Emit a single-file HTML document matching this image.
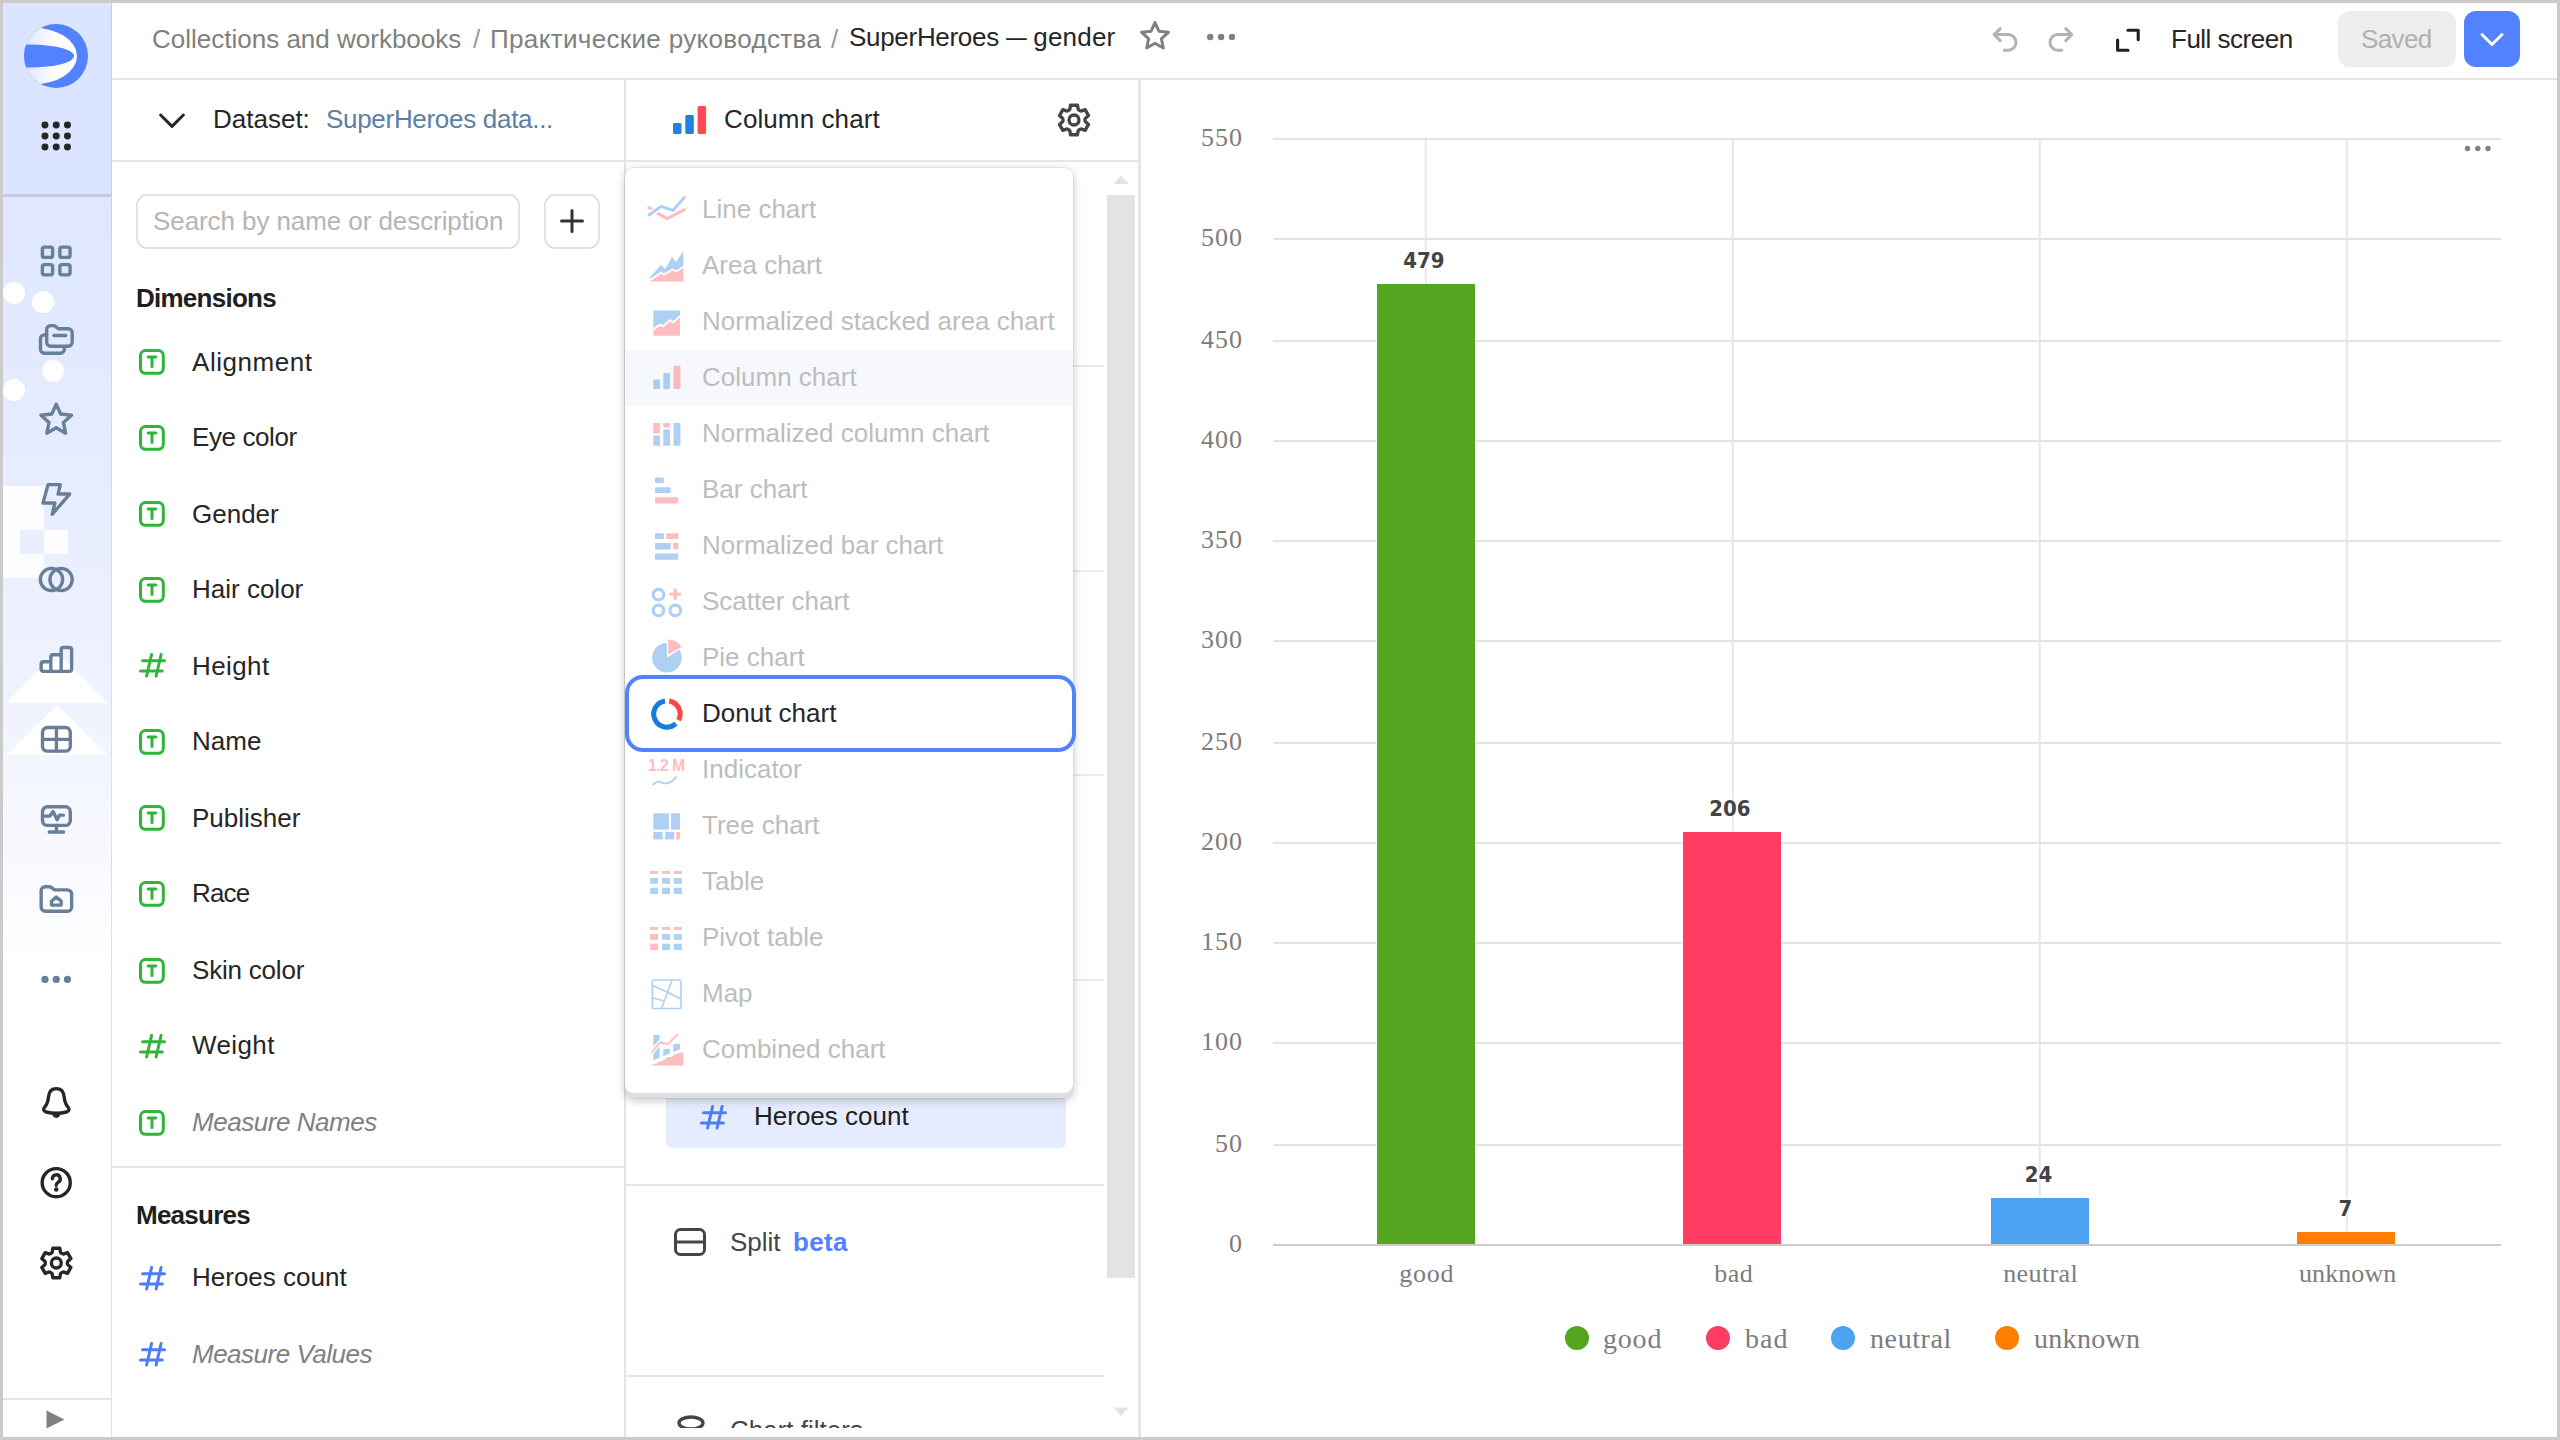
<!DOCTYPE html>
<html lang="en">
<head>
<meta charset="utf-8">
<title>SuperHeroes — gender</title>
<style>
*{box-sizing:border-box;margin:0;padding:0}
html,body{width:2560px;height:1440px;overflow:hidden;background:#fff}
body{font-family:"Liberation Sans",sans-serif;font-size:26px;color:#262626;position:relative}
.abs{position:absolute}
#frame{position:absolute;left:0;top:0;width:2560px;height:1440px;border:3px solid #cbcbcb;z-index:100;pointer-events:none}
.t{position:absolute;white-space:nowrap;line-height:30px;height:30px}
.ln{position:absolute;background:#e5e5e5}
svg{position:absolute;overflow:visible}
.ic{fill:none;stroke:#687f99;stroke-width:1.5;stroke-linecap:round;stroke-linejoin:round}
.icd{fill:none;stroke:#262626;stroke-width:1.5;stroke-linecap:round;stroke-linejoin:round}
/* aside */
#aside{position:absolute;left:3px;top:3px;width:108px;height:1434px;background:linear-gradient(180deg,#dde6ff 0px,#e0e8ff 250px,#e8edff 500px,#f0f3ff 700px,#f8f9ff 850px,#ffffff 960px);overflow:hidden}
#asidetop{position:absolute;left:0;top:0;width:108px;height:191px;background:#dce5ff}
/* rows */
.row{position:absolute;left:136px;height:76px;width:480px}
.row .t{left:56px;top:23px}
.it{font-style:italic;color:#808080}
/* dropdown */
#ddw{position:absolute;left:625px;top:168px;width:448px;height:929.5px;background:#dfdfe2;border-radius:9px;box-shadow:0 0 0 1px rgba(0,0,0,.03),0 2px 10px rgba(0,0,0,.24)}
#dd{position:absolute;left:625px;top:168px;width:448px;height:925px;background:#fff;border-radius:9px}
.mi{position:absolute;left:0;width:448px;height:56px}
.mi .t{left:77px;top:13px;color:#bdbdbd}
</style>
</head>
<body>
<div id="aside">
  <div id="asidetop"></div>
  <div class="abs" style="left:0;top:191px;width:108px;height:3px;background:#c4cbe2"></div>
  <!-- decor circles -->
  <div class="abs" style="left:0px;top:279px;width:22px;height:22px;border-radius:50%;background:#fff;margin-left:0"></div>
  <div class="abs" style="left:29px;top:288px;width:22px;height:22px;border-radius:50%;background:#fff"></div>
  <div class="abs" style="left:39px;top:357px;width:22px;height:22px;border-radius:50%;background:#fff"></div>
  <div class="abs" style="left:0px;top:376px;width:22px;height:22px;border-radius:50%;background:#fff"></div>
  <!-- decor squares -->
  <div class="abs" style="left:0;top:483px;width:41px;height:92px;background:#fdfdff"></div>
  <div class="abs" style="left:17px;top:527px;width:24px;height:24px;background:#eaeffe"></div>
  <div class="abs" style="left:41px;top:527px;width:24px;height:24px;background:#fdfdff"></div>
  <!-- decor triangles -->
  <svg style="left:0;top:640px" width="108" height="120" viewBox="0 0 108 120"><path d="M54 9 L105 60 L3 60Z M54 62 L105 112 L3 112Z" fill="#fff"/></svg>
  <div class="abs" style="left:0;top:1395px;width:108px;height:2px;background:#e5e5e5"></div>
</div>
<div class="ln" style="left:110.5px;top:3px;width:1.5px;height:1434px;background:linear-gradient(180deg,#c3cbe6 0,#ccd3ea 400px,#dcdfea 800px,#e2e3e8 1000px)"></div>
<!-- logo -->
<svg style="left:24px;top:24px" width="64" height="64" viewBox="0 0 64 64">
  <defs>
    <linearGradient id="lg" gradientUnits="userSpaceOnUse" x1="0" x2="64" y1="0" y2="0"><stop offset="0" stop-color="#dde5ff"/><stop offset=".5" stop-color="#ffffff"/><stop offset="1" stop-color="#ffffff"/></linearGradient>
    <clipPath id="lc"><circle cx="32" cy="32" r="32"/></clipPath>
  </defs>
  <circle cx="32" cy="32" r="32" fill="#5282ff"/>
  <g clip-path="url(#lc)">
    <ellipse cx="8" cy="32" rx="45" ry="28.5" fill="url(#lg)"/>
    <ellipse cx="6" cy="32" rx="44" ry="11.5" fill="#5282ff"/>
  </g>
</svg>
<!-- apps dots -->
<svg style="left:38px;top:118px" width="36" height="36" viewBox="0 0 16 16" fill="#262626">
  <circle cx="3.1" cy="3.1" r="1.55"/><circle cx="8.1" cy="3.1" r="1.55"/><circle cx="13.1" cy="3.1" r="1.55"/>
  <circle cx="3.1" cy="8" r="1.55"/><circle cx="8.1" cy="8" r="1.55"/><circle cx="13.1" cy="8" r="1.55"/>
  <circle cx="3.1" cy="12.9" r="1.55"/><circle cx="8.1" cy="12.9" r="1.55"/><circle cx="13.1" cy="12.9" r="1.55"/>
</svg>
<!-- dashboards -->
<svg class="ic" style="left:38px;top:243px" width="36" height="36" viewBox="0 0 16 16">
  <rect x="1.95" y="1.85" width="4.55" height="4.55" rx=".9"/><rect x="9.7" y="1.85" width="4.55" height="4.55" rx=".9"/>
  <rect x="1.95" y="9.6" width="4.55" height="4.55" rx=".9"/><rect x="9.7" y="9.6" width="4.55" height="4.55" rx=".9"/>
</svg>
<!-- folders -->
<svg class="ic" style="left:38px;top:322px" width="36" height="36" viewBox="0 0 16 16">
  <path d="M3.85 5.7 H2.9 A1.8 1.8 0 0 0 1.1 7.5 V12.1 A1.8 1.8 0 0 0 2.9 13.9 H9.9 A1.8 1.8 0 0 0 11.7 12.1 V11"/>
  <path d="M3.85 3.3 A1.7 1.7 0 0 1 5.55 1.6 H6.8 A1.7 1.7 0 0 1 8 2.1 L8.6 2.7 A1 1 0 0 0 9.3 3 H13.4 A1.8 1.8 0 0 1 15.2 4.8 V9 A1.8 1.8 0 0 1 13.4 10.8 H5.65 A1.8 1.8 0 0 1 3.85 9Z"/>
  <path d="M7.1 6 H12.3"/>
</svg>
<!-- star -->
<svg class="ic" style="left:38px;top:401px" width="36" height="36" viewBox="0 0 16 16">
  <path d="M8.1 1.45 L10.08 5.8 L14.9 6.33 L11.3 9.58 L12.28 14.3 L8.1 11.92 L3.92 14.3 L4.9 9.58 L1.3 6.33 L6.12 5.8Z"/>
</svg>
<!-- bolt -->
<svg class="ic" style="left:38px;top:481px" width="36" height="36" viewBox="0 0 16 16">
  <path d="M4.5 1.6 H9.9 L8.9 5.8 H14.1 L6.3 14.8 L7.5 9.8 H2.2Z"/>
</svg>
<!-- circles -->
<svg class="ic" style="left:38px;top:561px" width="36" height="36" viewBox="0 0 16 16">
  <circle cx="6.0" cy="8.2" r="4.95"/><circle cx="10.25" cy="8.2" r="4.95"/>
</svg>
<!-- bars -->
<svg class="ic" style="left:38px;top:642px" width="36" height="36" viewBox="0 0 16 16">
  <path d="M5.7 13.05 H2.4 A1 1 0 0 1 1.4 12.05 V9.75 A1 1 0 0 1 2.4 8.75 H5.7 M5.7 13.05 V6.65 A1 1 0 0 1 6.7 5.65 H10.3 M5.7 13.05 H10.3 M10.3 13.05 V3.45 A1 1 0 0 1 11.3 2.45 H13.95 A1 1 0 0 1 14.95 3.45 V12.05 A1 1 0 0 1 13.95 13.05 H10.3"/>
</svg>
<!-- table -->
<svg class="ic" style="left:38px;top:722px" width="36" height="36" viewBox="0 0 16 16">
  <rect x="2" y="2.45" width="12.35" height="10.5" rx="2.2"/><path d="M8.2 2.45 V12.95 M2 7.7 H14.35"/>
</svg>
<!-- monitor -->
<svg class="ic" style="left:38px;top:801px" width="36" height="36" viewBox="0 0 16 16">
  <rect x="2" y="2.55" width="12.35" height="8.3" rx="2.2"/><path d="M8.2 10.85 V13.7 M5 13.75 H11.4 M2.2 6.7 H5.3 L6.7 4.7 L8.5 8.3 L9.6 6.3 H11.3"/>
</svg>
<!-- folder home -->
<svg class="ic" style="left:38px;top:881px" width="36" height="36" viewBox="0 0 16 16">
  <path d="M1.4 4.35 A1.8 1.8 0 0 1 3.2 2.55 H4.9 A1.8 1.8 0 0 1 6.1 3 L6.9 3.7 A1 1 0 0 0 7.6 3.95 H13.15 A1.8 1.8 0 0 1 14.95 5.75 V11.65 A1.8 1.8 0 0 1 13.15 13.45 H3.2 A1.8 1.8 0 0 1 1.4 11.65Z"/>
  <path d="M8.15 7.1 L10.3 9 V10.7 H6 V9Z"/>
</svg>
<!-- more dots -->
<svg style="left:38px;top:961px" width="36" height="36" viewBox="0 0 16 16" fill="#687f99">
  <circle cx="3.1" cy="8.2" r="1.6"/><circle cx="8.1" cy="8.2" r="1.6"/><circle cx="13.1" cy="8.2" r="1.6"/>
</svg>
<!-- bell -->
<svg class="icd" style="left:38px;top:1085px" width="36" height="36" viewBox="0 0 16 16">
  <path d="M8.15 1.6 C5.9 1.6 4.9 3.2 4.7 5.1 C4.5 7 4.3 8.2 3.2 9.5 C2.1 10.8 2.4 11.7 3.6 12 C6.5 12.7 9.8 12.7 12.7 12 C13.9 11.7 14.2 10.8 13.1 9.5 C12 8.2 11.8 7 11.6 5.1 C11.4 3.2 10.4 1.6 8.15 1.6Z"/>
  <path d="M6.2 12.6 A2 2.6 0 0 0 10.1 12.6Z" fill="#262626" stroke="none"/>
</svg>
<!-- help -->
<svg class="icd" style="left:38px;top:1165px" width="36" height="36" viewBox="0 0 16 16">
  <circle cx="8.1" cy="7.85" r="6.25"/>
  <path d="M6.4 6.1 A1.75 1.75 0 1 1 8.9 7.7 C8.3 8.1 8.1 8.4 8.1 9"/>
  <circle cx="8.1" cy="10.9" r="1" fill="#262626" stroke="none"/>
</svg>
<!-- gear -->
<svg class="icd" style="left:38px;top:1245px" width="36" height="36" viewBox="0 0 16 16">
  <path d="M6.11 3.32L6.48 1.42L9.52 1.42L9.89 3.32L10.45 3.76L11.11 4.02L12.94 3.40L14.46 6.03L13.00 7.30L12.90 8.00L13.00 8.70L14.46 9.97L12.94 12.60L11.11 11.98L10.45 12.24L9.89 12.68L9.52 14.58L6.48 14.58L6.11 12.68L5.55 12.24L4.89 11.98L3.06 12.60L1.54 9.97L3.00 8.70L3.10 8.00L3.00 7.30L1.54 6.03L3.06 3.40L4.89 4.02L5.55 3.76Z" transform="translate(.15 0)"/>
  <circle cx="8.15" cy="8" r="2.2"/>
</svg>
<!-- play -->
<svg style="left:46px;top:1410px" width="19" height="19" viewBox="0 0 19 19"><path d="M0.5 0.5 L18.5 9.5 L0.5 18.5Z" fill="#808080"/></svg>

<!-- topbar -->
<div class="ln" style="left:112px;top:78px;width:2445px;height:2px"></div>
<div class="t" style="left:152px;top:24px;color:#808080">Collections and workbooks</div>
<div class="t" style="left:473px;top:24px;color:#9a9a9a">/</div>
<div class="t" style="left:490px;top:24px;color:#808080;letter-spacing:.34px">Практические руководства</div>
<div class="t" style="left:831px;top:24px;color:#9a9a9a">/</div>
<div class="t" style="left:849px;top:22px;color:#262626;letter-spacing:-.3px">SuperHeroes <span style="display:inline-block;transform:scaleX(.8);transform-origin:0 50%;margin-right:-5.5px;letter-spacing:0">—</span> <span style="letter-spacing:.2px">gender</span></div>
<svg style="left:1139px;top:20px;fill:none;stroke:#808080;stroke-width:1.5;stroke-linejoin:round" width="32" height="32" viewBox="0 0 16 16">
  <path d="M8 1.3 L9.95 5.6 L14.7 6.15 L11.2 9.35 L12.15 14 L8 11.65 L3.85 14 L4.8 9.35 L1.3 6.15 L6.05 5.6Z"/>
</svg>
<svg style="left:1205px;top:21px" width="32" height="32" viewBox="0 0 16 16" fill="#808080"><circle cx="2.6" cy="8" r="1.6"/><circle cx="8.05" cy="8" r="1.6"/><circle cx="13.5" cy="8" r="1.6"/></svg>
<!-- undo / redo -->
<svg style="left:1989px;top:24px;fill:none;stroke:#b3b3b3;stroke-width:1.5;stroke-linecap:round;stroke-linejoin:round" width="32" height="32" viewBox="0 0 16 16">
  <path d="M5.6 2.3 L2.6 5.3 L5.6 8.3 M2.8 5.3 H9.6 A3.9 3.9 0 0 1 9.6 13.1 H7.6"/>
</svg>
<svg style="left:2045px;top:24px;fill:none;stroke:#b3b3b3;stroke-width:1.5;stroke-linecap:round;stroke-linejoin:round" width="32" height="32" viewBox="0 0 16 16">
  <path d="M10.4 2.3 L13.4 5.3 L10.4 8.3 M13.2 5.3 H6.4 A3.9 3.9 0 0 0 6.4 13.1 H8.4"/>
</svg>
<!-- fullscreen -->
<svg style="left:2112px;top:24px;fill:none;stroke:#212121;stroke-width:1.55;stroke-linecap:round;stroke-linejoin:round" width="32" height="32" viewBox="0 0 16 16">
  <path d="M7.95 3.15 H13.1 V7.9 M2.8 8 V13.1 H8"/>
</svg>
<div class="t" style="left:2171px;top:24px;color:#262626;letter-spacing:-.5px">Full screen</div>
<div class="abs" style="left:2338px;top:11px;width:118px;height:56px;border-radius:12px;background:#ededed"></div>
<div class="t" style="left:2361px;top:24px;color:#b0b0b0;letter-spacing:-.6px">Saved</div>
<div class="abs" style="left:2464px;top:11px;width:56px;height:56px;border-radius:12px;background:#5282ff"></div>
<svg style="left:2476px;top:23px;fill:none;stroke:#fff;stroke-width:1.5;stroke-linecap:round;stroke-linejoin:round" width="32" height="32" viewBox="0 0 16 16"><path d="M3 5.75 L8 10.75 L13 5.75"/></svg>

<!-- left panel -->
<div class="ln" style="left:112px;top:160px;width:1026px;height:2px"></div>
<div class="ln" style="left:624px;top:80px;width:2px;height:1357px"></div>
<svg style="left:156px;top:105px;fill:none;stroke:#262626;stroke-width:1.5;stroke-linecap:round;stroke-linejoin:round" width="32" height="32" viewBox="0 0 16 16"><path d="M2.3 5 L8 10.7 L13.7 5"/></svg>
<div class="t" style="left:213px;top:104px;color:#262626">Dataset:</div>
<div class="t" style="left:326px;top:104px;color:#5b7fa5;letter-spacing:-.3px">SuperHeroes data...</div>
<div class="abs" style="left:136px;top:194px;width:384px;height:55px;border:2px solid #e2e2e2;border-radius:11px"></div>
<div class="t" style="left:153px;top:206px;color:#b5b5b5;letter-spacing:-.08px">Search by name or description</div>
<div class="abs" style="left:544px;top:194px;width:56px;height:55px;border:2px solid #e2e2e2;border-radius:11px"></div>
<svg style="left:560px;top:209px;fill:none;stroke:#333;stroke-width:3;stroke-linecap:round" width="24" height="24" viewBox="0 0 24 24"><path d="M12 1.5 V22.5 M1.5 12 H22.5"/></svg>
<div class="t" style="left:136px;top:283px;font-weight:700;color:#1f1f1f;letter-spacing:-.75px">Dimensions</div>
<div class="ln" style="left:112px;top:1166px;width:512px;height:2px"></div>
<div class="t" style="left:136px;top:1200px;font-weight:700;color:#1f1f1f;letter-spacing:-.75px">Measures</div>
<div class="row" style="top:324px"><svg style="left:3px;top:24.7px;fill:none;stroke:#30b53a;stroke-width:3;stroke-linecap:round" width="26" height="26" viewBox="0 0 26 26"><rect x="1.5" y="1.5" width="22.8" height="22.8" rx="5"/><path d="M9.2 7.9 H16.8 M13 7.9 V17.4"/></svg><div class="t" style="letter-spacing:0.55px">Alignment</div></div>
<div class="row" style="top:399px"><svg style="left:3px;top:25.8px;fill:none;stroke:#30b53a;stroke-width:3;stroke-linecap:round" width="26" height="26" viewBox="0 0 26 26"><rect x="1.5" y="1.5" width="22.8" height="22.8" rx="5"/><path d="M9.2 7.9 H16.8 M13 7.9 V17.4"/></svg><div class="t" style="letter-spacing:-0.4px">Eye color</div></div>
<div class="row" style="top:476px"><svg style="left:3px;top:24.9px;fill:none;stroke:#30b53a;stroke-width:3;stroke-linecap:round" width="26" height="26" viewBox="0 0 26 26"><rect x="1.5" y="1.5" width="22.8" height="22.8" rx="5"/><path d="M9.2 7.9 H16.8 M13 7.9 V17.4"/></svg><div class="t">Gender</div></div>
<div class="row" style="top:551px"><svg style="left:3px;top:26.0px;fill:none;stroke:#30b53a;stroke-width:3;stroke-linecap:round" width="26" height="26" viewBox="0 0 26 26"><rect x="1.5" y="1.5" width="22.8" height="22.8" rx="5"/><path d="M9.2 7.9 H16.8 M13 7.9 V17.4"/></svg><div class="t">Hair color</div></div>
<div class="row" style="top:628px"><svg style="left:2.7px;top:25.3px;fill:none;stroke:#30b53a;stroke-width:3;stroke-linecap:round" width="28" height="28" viewBox="0 0 28 28"><path d="M12.6 1.5 L7.6 23 M22.1 1.5 L17.1 23 M3.6 7.7 H25.5 M1.5 18 H23.3"/></svg><div class="t" style="letter-spacing:0.4px">Height</div></div>
<div class="row" style="top:703px"><svg style="left:3px;top:26.2px;fill:none;stroke:#30b53a;stroke-width:3;stroke-linecap:round" width="26" height="26" viewBox="0 0 26 26"><rect x="1.5" y="1.5" width="22.8" height="22.8" rx="5"/><path d="M9.2 7.9 H16.8 M13 7.9 V17.4"/></svg><div class="t">Name</div></div>
<div class="row" style="top:780px"><svg style="left:3px;top:25.3px;fill:none;stroke:#30b53a;stroke-width:3;stroke-linecap:round" width="26" height="26" viewBox="0 0 26 26"><rect x="1.5" y="1.5" width="22.8" height="22.8" rx="5"/><path d="M9.2 7.9 H16.8 M13 7.9 V17.4"/></svg><div class="t">Publisher</div></div>
<div class="row" style="top:855px"><svg style="left:3px;top:26.4px;fill:none;stroke:#30b53a;stroke-width:3;stroke-linecap:round" width="26" height="26" viewBox="0 0 26 26"><rect x="1.5" y="1.5" width="22.8" height="22.8" rx="5"/><path d="M9.2 7.9 H16.8 M13 7.9 V17.4"/></svg><div class="t" style="letter-spacing:-0.85px">Race</div></div>
<div class="row" style="top:932px"><svg style="left:3px;top:25.5px;fill:none;stroke:#30b53a;stroke-width:3;stroke-linecap:round" width="26" height="26" viewBox="0 0 26 26"><rect x="1.5" y="1.5" width="22.8" height="22.8" rx="5"/><path d="M9.2 7.9 H16.8 M13 7.9 V17.4"/></svg><div class="t" style="letter-spacing:-0.2px">Skin color</div></div>
<div class="row" style="top:1007px"><svg style="left:2.7px;top:26.8px;fill:none;stroke:#30b53a;stroke-width:3;stroke-linecap:round" width="28" height="28" viewBox="0 0 28 28"><path d="M12.6 1.5 L7.6 23 M22.1 1.5 L17.1 23 M3.6 7.7 H25.5 M1.5 18 H23.3"/></svg><div class="t" style="letter-spacing:0.4px">Weight</div></div>
<div class="row" style="top:1084px"><svg style="left:3px;top:25.7px;fill:none;stroke:#30b53a;stroke-width:3;stroke-linecap:round" width="26" height="26" viewBox="0 0 26 26"><rect x="1.5" y="1.5" width="22.8" height="22.8" rx="5"/><path d="M9.2 7.9 H16.8 M13 7.9 V17.4"/></svg><div class="t it" style="letter-spacing:-0.45px">Measure Names</div></div>
<div class="row" style="top:1239px"><svg style="left:2.7px;top:27.3px;fill:none;stroke:#4c7cf6;stroke-width:3;stroke-linecap:round" width="28" height="28" viewBox="0 0 28 28"><path d="M12.6 1.5 L7.6 23 M22.1 1.5 L17.1 23 M3.6 7.7 H25.5 M1.5 18 H23.3"/></svg><div class="t">Heroes count</div></div>
<div class="row" style="top:1316px"><svg style="left:2.7px;top:26.4px;fill:none;stroke:#4c7cf6;stroke-width:3;stroke-linecap:round" width="28" height="28" viewBox="0 0 28 28"><path d="M12.6 1.5 L7.6 23 M22.1 1.5 L17.1 23 M3.6 7.7 H25.5 M1.5 18 H23.3"/></svg><div class="t it" style="letter-spacing:-0.5px">Measure Values</div></div>
<!-- mid panel -->
<div class="ln" style="left:1138px;top:80px;width:3px;height:1357px;background:#e6e6e6"></div>
<svg style="left:673px;top:106px" width="34" height="28" viewBox="0 0 34 28">
  <rect x="0" y="17" width="8.5" height="11" rx="1.6" fill="#2280e0"/><rect x="12.3" y="9" width="8.5" height="19" rx="1.6" fill="#2280e0"/><rect x="24.6" y="0" width="8.5" height="28" rx="1.6" fill="#ff4a4f"/>
</svg>
<div class="t" style="left:724px;top:104px;color:#262626;letter-spacing:.1px">Column chart</div>
<svg style="left:1056px;top:102px;fill:none;stroke:#454545;stroke-width:1.5;stroke-linecap:round;stroke-linejoin:round" width="36" height="36" viewBox="0 0 16 16">
  <path d="M6.11 3.32L6.48 1.42L9.52 1.42L9.89 3.32L10.45 3.76L11.11 4.02L12.94 3.40L14.46 6.03L13.00 7.30L12.90 8.00L13.00 8.70L14.46 9.97L12.94 12.60L11.11 11.98L10.45 12.24L9.89 12.68L9.52 14.58L6.48 14.58L6.11 12.68L5.55 12.24L4.89 11.98L3.06 12.60L1.54 9.97L3.00 8.70L3.10 8.00L3.00 7.30L1.54 6.03L3.06 3.40L4.89 4.02L5.55 3.76Z"/>
  <circle cx="8" cy="8" r="2.2"/>
</svg>
<!-- section lines behind dropdown -->
<div class="ln" style="left:626px;top:365px;width:478px;height:2px;background:#ebebeb"></div>
<div class="ln" style="left:626px;top:570px;width:478px;height:2px;background:#ebebeb"></div>
<div class="ln" style="left:626px;top:774px;width:478px;height:2px;background:#ebebeb"></div>
<div class="ln" style="left:626px;top:979px;width:478px;height:2px;background:#ebebeb"></div>
<div class="ln" style="left:626px;top:1184px;width:478px;height:2px"></div>
<div class="ln" style="left:626px;top:1375px;width:478px;height:2px"></div>
<!-- heroes count chip -->
<div class="abs" style="left:666px;top:1087px;width:400px;height:60.5px;border-radius:6px;background:#e6ecff"></div>
<svg style="left:700px;top:1105px;fill:none;stroke:#4c7cf6;stroke-width:3;stroke-linecap:round" width="28" height="28" viewBox="0 0 28 28"><path d="M12.6 1.5 L7.6 23 M22.1 1.5 L17.1 23 M3.6 7.7 H25.5 M1.5 18 H23.3"/></svg>
<div class="t" style="left:754px;top:1101px;color:#1f1f1f">Heroes count</div>
<!-- split -->
<svg style="left:674px;top:1228px;fill:none;stroke:#454545;stroke-width:3;stroke-linejoin:round" width="32" height="28" viewBox="0 0 32 28"><rect x="1.5" y="1.5" width="29" height="25" rx="5"/><path d="M1.5 14 H30.5"/></svg>
<div class="t" style="left:730px;top:1227px;color:#454545">Split</div>
<div class="t" style="left:793px;top:1227px;color:#5282ff;font-weight:700;letter-spacing:.3px">beta</div>
<!-- chart filters (clipped) -->
<div class="abs" style="left:626px;top:1400px;width:478px;height:28px;overflow:hidden">
  <svg style="left:50px;top:15px;fill:none;stroke:#454545;stroke-width:3.4" width="30" height="30" viewBox="0 0 30 30"><ellipse cx="15" cy="8" rx="12" ry="6"/></svg>
  <div class="t" style="left:104px;top:15px;color:#454545">Chart filters</div>
</div>
<!-- scrollbar -->
<svg style="left:1106px;top:170px" width="30" height="1260" viewBox="0 0 30 1260">
  <path d="M15 5.5 L22.5 14 H7.5Z" fill="#e3e3e3"/>
  <rect x="1" y="25" width="28" height="1083" fill="#e3e3e3"/>
  <path d="M15 1246 L22.5 1237.5 H7.5Z" fill="#e3e3e3"/>
</svg>

<svg style="left:1141px;top:82px" width="1416" height="1355" viewBox="1141 82 1416 1355">
<g fill="none"><path d="M1273 139 H2501" stroke="#e3e3e3" stroke-width="2"/><path d="M1273 239 H2501" stroke="#e3e3e3" stroke-width="2"/><path d="M1273 341 H2501" stroke="#e3e3e3" stroke-width="2"/><path d="M1273 441 H2501" stroke="#e3e3e3" stroke-width="2"/><path d="M1273 541 H2501" stroke="#e3e3e3" stroke-width="2"/><path d="M1273 641 H2501" stroke="#e3e3e3" stroke-width="2"/><path d="M1273 743 H2501" stroke="#e3e3e3" stroke-width="2"/><path d="M1273 843 H2501" stroke="#e3e3e3" stroke-width="2"/><path d="M1273 943 H2501" stroke="#e3e3e3" stroke-width="2"/><path d="M1273 1043 H2501" stroke="#e3e3e3" stroke-width="2"/><path d="M1273 1145 H2501" stroke="#e3e3e3" stroke-width="2"/><path d="M1425.8 140 V1244" stroke="#e7e7e7" stroke-width="2"/><path d="M1732.8 140 V1244" stroke="#e7e7e7" stroke-width="2"/><path d="M2039.8 140 V1244" stroke="#e7e7e7" stroke-width="2"/><path d="M2346.8 140 V1244" stroke="#e7e7e7" stroke-width="2"/></g>
<rect x="1377" y="284" width="98" height="960" fill="#54a520" stroke="#fff" stroke-width="2" paint-order="stroke"/>
<rect x="1683" y="832" width="98" height="412" fill="#ff3d64" stroke="#fff" stroke-width="2" paint-order="stroke"/>
<rect x="1991" y="1198" width="98" height="46" fill="#4da2f1" stroke="#fff" stroke-width="2" paint-order="stroke"/>
<rect x="2297" y="1232" width="98" height="12" fill="#ff7e00" stroke="#fff" stroke-width="2" paint-order="stroke"/>
<path d="M1273 1245 H2501" stroke="#cccccc" stroke-width="2" fill="none"/>
<g font-family="Liberation Serif,serif" font-size="26" fill="#7c7c7c" text-anchor="end" letter-spacing="1"><text x="1243" y="146">550</text><text x="1243" y="246">500</text><text x="1243" y="348">450</text><text x="1243" y="448">400</text><text x="1243" y="548">350</text><text x="1243" y="648">300</text><text x="1243" y="750">250</text><text x="1243" y="850">200</text><text x="1243" y="950">150</text><text x="1243" y="1050">100</text><text x="1243" y="1152">50</text><text x="1243" y="1252">0</text></g>
<g font-family="Liberation Serif,serif" font-size="26" fill="#7c7c7c" text-anchor="middle" letter-spacing="1"><text x="1426.7" y="1282" letter-spacing="0.7">good</text><text x="1733.7" y="1282" letter-spacing="0.4">bad</text><text x="2040.7" y="1282" letter-spacing="0.4">neutral</text><text x="2347.7" y="1282" letter-spacing="0.1">unknown</text></g>
<g font-family="DejaVu Sans Condensed,DejaVu Sans,sans-serif" font-weight="700" font-size="22" fill="#444" text-anchor="middle" stroke="#fff" stroke-width="3" stroke-linejoin="round" paint-order="stroke"><text x="1424" y="268">479</text><text x="1730" y="816">206</text><text x="2038.5" y="1182">24</text><text x="2345.5" y="1216">7</text></g>
<circle cx="1577" cy="1338" r="12" fill="#54a520"/>
<circle cx="1718" cy="1338" r="12" fill="#ff3d64"/>
<circle cx="1843" cy="1338" r="12" fill="#4da2f1"/>
<circle cx="2007" cy="1338" r="12" fill="#ff7e00"/>
<g font-family="Liberation Serif,serif" font-size="28" fill="#7c7c7c" letter-spacing="1.1"><text x="1603" y="1347.5" letter-spacing="0.8">good</text><text x="1745" y="1347.5" letter-spacing="1">bad</text><text x="1870" y="1347.5" letter-spacing="0.6">neutral</text><text x="2034" y="1347.5" letter-spacing="0.3">unknown</text></g>
<g fill="#808080"><circle cx="2467.5" cy="148.5" r="2.7"/><circle cx="2477.8" cy="148.5" r="2.7"/><circle cx="2488" cy="148.5" r="2.7"/></g>
</svg>

<div id="ddw"></div>
<div id="dd">
<div class="mi" style="top:13px"><svg style="left:26px;top:12px" width="32" height="32" viewBox="0 0 16 16"><g opacity=".36"><g fill="none" stroke-width="1.5" stroke-linecap="round" stroke-linejoin="round"><path d="M-1 7.3 L3.5 10.2 L8 12.8 L16.7 8.3" stroke="#ff4a4f"/><path d="M-1 11 L5 6.7 L11 8.6 L16.7 2.3" stroke="#fff" stroke-width="3.2"/><path d="M-1 11 L5 6.7 L11 8.6 L16.7 2.3" stroke="#2280e0"/></g></g></svg><div class="t">Line chart</div></div>
<div class="mi" style="top:69px"><svg style="left:26px;top:12px" width="32" height="32" viewBox="0 0 16 16"><g opacity=".36"><path d="M-.5 14 L5 8 L7 10 L10.5 4 L12.5 6.5 L16.2 1 V8.2 L12.7 10.7 L10.7 9.7 L6.5 12.2 L5 11.3 L-.5 15Z" fill="#2280e0"/><path d="M-.5 16.3 L5 12.4 L6.5 13.3 L10.7 10.8 L12.7 11.8 L16.2 9.3 V16.3Z" fill="#ff4a4f"/></g></svg><div class="t">Area chart</div></div>
<div class="mi" style="top:125px"><svg style="left:26px;top:12px" width="32" height="32" viewBox="0 0 16 16"><g opacity=".36"><path d="M1.15 2.7 H14.5 V5 L11 8 L9.5 7 L6 10 L4.5 9.3 L1.15 11.5Z" fill="#2280e0"/><path d="M1.15 12.7 L4.5 10.5 L6 11.2 L9.5 8.2 L11 9.2 L14.5 6.2 V15.4 H1.15Z" fill="#ff4a4f"/></g></svg><div class="t">Normalized stacked area chart</div></div>
<div class="abs" style="left:0;top:182px;width:448px;height:56px;background:#f7f8fd"></div><div class="mi" style="top:181px"><svg style="left:26px;top:12px" width="32" height="32" viewBox="0 0 16 16"><g opacity=".36"><rect x="1.15" y="9.3" width="3.35" height="4.7" rx="0.5" fill="#2280e0"/><rect x="6.15" y="6" width="3.35" height="8" rx="0.5" fill="#2280e0"/><rect x="11.25" y="2.35" width="3.45" height="11.65" rx="0.5" fill="#ff4a4f"/></g></svg><div class="t">Column chart</div></div>
<div class="mi" style="top:237px"><svg style="left:26px;top:12px" width="32" height="32" viewBox="0 0 16 16"><g opacity=".36"><rect x="1.15" y="3" width="3.35" height="5.3" rx="0.3" fill="#ff4a4f"/><rect x="1.15" y="9.3" width="3.35" height="5.1" rx="0.3" fill="#2280e0"/><rect x="6.15" y="3" width="3.35" height="2.2" rx="0.3" fill="#ff4a4f"/><rect x="6.15" y="6.2" width="3.35" height="8.2" rx="0.3" fill="#2280e0"/><rect x="11.25" y="3" width="3.45" height="11.4" rx="0.3" fill="#2280e0"/></g></svg><div class="t">Normalized column chart</div></div>
<div class="mi" style="top:293px"><svg style="left:26px;top:12px" width="32" height="32" viewBox="0 0 16 16"><g opacity=".36"><rect x="2" y="2.25" width="4.4" height="2.75" rx="0.5" fill="#2280e0"/><rect x="2" y="7.15" width="7.8" height="2.85" rx="0.5" fill="#2280e0"/><rect x="2" y="12.15" width="11.65" height="3.1" rx="0.5" fill="#ff4a4f"/></g></svg><div class="t">Bar chart</div></div>
<div class="mi" style="top:349px"><svg style="left:26px;top:12px" width="32" height="32" viewBox="0 0 16 16"><g opacity=".36"><rect x="2" y="2.15" width="4.4" height="2.85" rx="0.3" fill="#2280e0"/><rect x="7.65" y="2.15" width="6.0" height="2.85" rx="0.3" fill="#ff4a4f"/><rect x="2" y="7" width="7.8" height="3.2" rx="0.3" fill="#2280e0"/><rect x="11.05" y="7" width="2.6" height="3.2" rx="0.3" fill="#ff4a4f"/><rect x="2" y="12.25" width="11.65" height="3.15" rx="0.3" fill="#2280e0"/></g></svg><div class="t">Normalized bar chart</div></div>
<div class="mi" style="top:405px"><svg style="left:26px;top:12px" width="32" height="32" viewBox="0 0 16 16"><g opacity=".36"><g fill="none" stroke="#2280e0" stroke-width="1.6"><circle cx="3.75" cy="4.8" r="2.65"/><circle cx="3.75" cy="12.7" r="2.65"/><circle cx="12.1" cy="12.7" r="2.65"/></g><path d="M12.1 2.4 V6.8 M9.9 4.6 H14.3" stroke="#ff4a4f" stroke-width="1.6" stroke-linecap="round" fill="none"/></g></svg><div class="t">Scatter chart</div></div>
<div class="mi" style="top:461px"><svg style="left:26px;top:12px" width="32" height="32" viewBox="0 0 16 16"><g opacity=".36"><path d="M7.95 8.35 L14.23 4.43 A7.4 7.4 0 1 1 7.95 0.95Z" fill="#2280e0"/><path d="M8.65 6.8 L8.65 -0.80 A7.6 7.6 0 0 1 15.23 3.00Z" fill="#ff4a4f"/></g></svg><div class="t">Pie chart</div></div>
<div class="mi" style="top:517px"><svg style="left:26px;top:12px" width="32" height="32" viewBox="0 0 16 16"><g><g fill="none" stroke-width="2.5"><path d="M12.45 13.33 A6.6 6.6 0 1 1 7.03 1.96" stroke="#1a7ae0"/><path d="M9.10 2.00 A6.6 6.6 0 0 1 13.78 11.60" stroke="#ff4448"/></g></g></svg><div class="t" style="color:#262626">Donut chart</div></div>
<div class="mi" style="top:573px"><svg style="left:26px;top:12px" width="32" height="32" viewBox="0 0 16 16"><g opacity=".36"><text x="-1.5" y="8.9" font-family="Liberation Sans,sans-serif" font-weight="700" font-size="7.9" fill="#ff4a4f" letter-spacing="-.3" stroke="none">1.2 M</text><path d="M1.2 15.7 C3 13.8 4 14.1 5.5 14.8 C7.5 15.7 10 15.1 12.6 12.1" fill="none" stroke="#2280e0" stroke-width=".9" stroke-linecap="round"/></g></svg><div class="t">Indicator</div></div>
<div class="mi" style="top:629px"><svg style="left:26px;top:12px" width="32" height="32" viewBox="0 0 16 16"><g opacity=".36"><rect x="1.15" y="2.15" width="7.85" height="8.15" rx="0" fill="#2280e0"/><rect x="10" y="2.15" width="4.5" height="8.15" rx="0" fill="#2280e0"/><rect x="1.15" y="11.5" width="4.7" height="3.7" rx="0" fill="#2280e0"/><rect x="7.1" y="11.5" width="4.5" height="3.7" rx="0" fill="#2280e0"/><rect x="12.6" y="11.5" width="1.9" height="3.7" rx="0" fill="#ff4a4f"/></g></svg><div class="t">Tree chart</div></div>
<div class="mi" style="top:685px"><svg style="left:26px;top:12px" width="32" height="32" viewBox="0 0 16 16"><g opacity=".36"><rect x="-0.4" y="3" width="3.95" height="1.4" rx="0" fill="#ff4a4f"/><rect x="-0.4" y="6.5" width="3.95" height="2.9" rx="0" fill="#2280e0"/><rect x="-0.4" y="11.35" width="3.95" height="3.15" rx="0" fill="#2280e0"/><rect x="5.5" y="3" width="4.0" height="1.4" rx="0" fill="#ff4a4f"/><rect x="5.5" y="6.5" width="4.0" height="2.9" rx="0" fill="#2280e0"/><rect x="5.5" y="11.35" width="4.0" height="3.15" rx="0" fill="#2280e0"/><rect x="11.4" y="3" width="4.05" height="1.4" rx="0" fill="#ff4a4f"/><rect x="11.4" y="6.5" width="4.05" height="2.9" rx="0" fill="#2280e0"/><rect x="11.4" y="11.35" width="4.05" height="3.15" rx="0" fill="#2280e0"/></g></svg><div class="t">Table</div></div>
<div class="mi" style="top:741px"><svg style="left:26px;top:12px" width="32" height="32" viewBox="0 0 16 16"><g opacity=".36"><rect x="-0.4" y="3" width="3.95" height="1.4" rx="0" fill="#ff4a4f"/><rect x="-0.4" y="6.5" width="3.95" height="2.9" rx="0" fill="#ff4a4f"/><rect x="-0.4" y="11.35" width="3.95" height="3.15" rx="0" fill="#ff4a4f"/><rect x="5.5" y="3" width="4.0" height="1.4" rx="0" fill="#ff4a4f"/><rect x="5.5" y="6.5" width="4.0" height="2.9" rx="0" fill="#2280e0"/><rect x="5.5" y="11.35" width="4.0" height="3.15" rx="0" fill="#2280e0"/><rect x="11.4" y="3" width="4.05" height="1.4" rx="0" fill="#ff4a4f"/><rect x="11.4" y="6.5" width="4.05" height="2.9" rx="0" fill="#2280e0"/><rect x="11.4" y="11.35" width="4.05" height="3.15" rx="0" fill="#2280e0"/></g></svg><div class="t">Pivot table</div></div>
<div class="mi" style="top:797px"><svg style="left:26px;top:12px" width="32" height="32" viewBox="0 0 16 16"><g opacity=".36"><g fill="none" stroke="#2280e0" stroke-width=".8" stroke-linejoin="round"><rect x=".65" y="1.5" width="14.35" height="14.25" rx=".4"/><path d="M.65 4.3 L8.3 7.6 L15 11 M10.6 1.5 L5.2 15.75 M.65 10.4 L6.6 12"/></g></g></svg><div class="t">Map</div></div>
<div class="mi" style="top:853px"><svg style="left:26px;top:12px" width="32" height="32" viewBox="0 0 16 16"><g opacity=".36"><rect x="1.15" y="1" width="3.15" height="13" rx="0" fill="#2280e0"/><rect x="6.15" y="8" width="3.35" height="5" rx="0" fill="#2280e0"/><rect x="11.15" y="5.5" width="3.35" height="6.5" rx="0" fill="#2280e0"/><path d="M-.3 15.1 L16.3 8.2" fill="none" stroke="#fff" stroke-width="1.5"/><path d="M0 16.2 L16.15 9.4 V16.2Z" fill="#ff4a4f"/><path d="M.25 9.75 L4.5 4.75 L8.5 5.5 L13.2 .8" fill="none" stroke="#fff" stroke-width="2.2"/><path d="M.25 9.75 L4.5 4.75 L8.5 5.5 L13.2 .8" fill="none" stroke="#ff4a4f" stroke-width=".9" stroke-linecap="round" stroke-linejoin="round"/></g></svg><div class="t">Combined chart</div></div>
</div>
<div class="abs" style="left:625px;top:675px;width:451px;height:77px;border:4px solid #5282ff;border-radius:18px"></div>

<div id="frame"></div>
</body>
</html>
